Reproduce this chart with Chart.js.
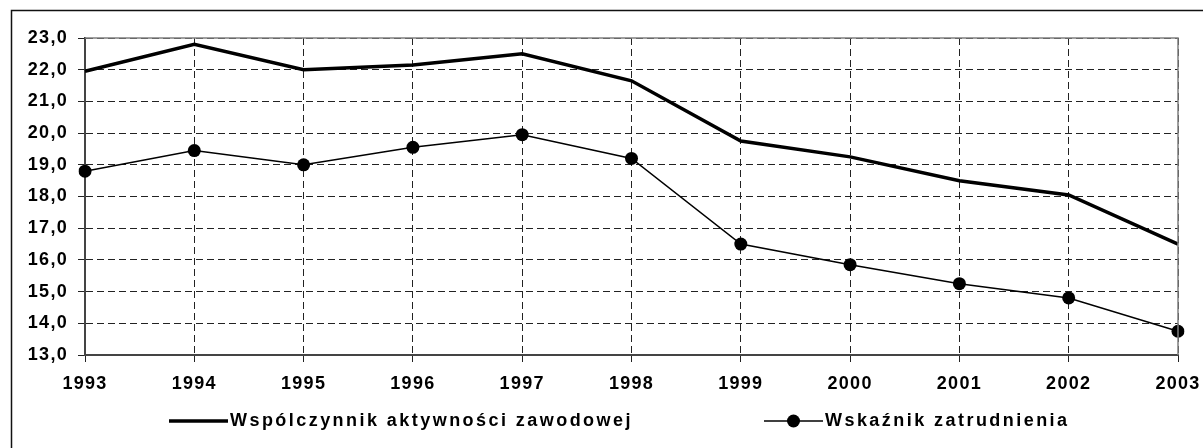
<!DOCTYPE html>
<html>
<head>
<meta charset="utf-8">
<script src="https://cdn.jsdelivr.net/npm/chart.js@4.4.0/dist/chart.umd.min.js"></script>
<style>
  html, body { margin: 0; padding: 0; background: #fff; }
  #wrap { width: 1203px; height: 448px; }
</style>
</head>
<body>
<div id="wrap"><canvas id="myChart" width="1203" height="448"></canvas></div>
<script>
var lata = ['1993', '1994', '1995', '1996', '1997', '1998', '1999', '2000', '2001', '2002', '2003'];
var aktywnosc = [21.95, 22.8, 22.0, 22.15, 22.5, 21.65, 19.75, 19.25, 18.5, 18.05, 16.5];
var zatrudnienie = [18.8, 19.45, 19.0, 19.55, 19.95, 19.2, 16.5, 15.85, 15.25, 14.8, 13.75];
var nazwy = ['Wspólczynnik aktywności zawodowej', 'Wskaźnik zatrudnienia'];
var yMin = 13, yMax = 23, yKrok = 1;

var czcionka = { family: "'Liberation Sans', Arial, sans-serif", size: 18, weight: 'bold' };

// ramka wokol calego wykresu, obwodka obszaru kreslenia i legenda
var rysunek = {
    id: 'rysunek',
    beforeDraw: function (chart) {
        var c = chart.ctx;
        c.letterSpacing = '1.3px';
    },
    afterDraw: function (chart) {
        var c = chart.ctx;
        var a = chart.chartArea;
        c.save();
        c.letterSpacing = '0px';
        c.strokeStyle = '#808080';
        c.lineWidth = 1.5;
        c.beginPath();
        c.moveTo(a.left, a.top);
        c.lineTo(a.right, a.top);
        c.lineTo(a.right, a.bottom);
        c.stroke();

        c.strokeStyle = '#111';
        c.lineWidth = 1.5;
        c.strokeRect(11.5, 10.5, 1250, 500);

        // legenda
        var ly = 421;
        c.strokeStyle = '#000';
        c.fillStyle = '#000';
        c.lineWidth = 3.5;
        c.beginPath();
        c.moveTo(169, ly);
        c.lineTo(228, ly);
        c.stroke();

        c.lineWidth = 1.5;
        c.beginPath();
        c.moveTo(764, ly);
        c.lineTo(823, ly);
        c.stroke();
        c.beginPath();
        c.arc(793.5, ly, 6.5, 0, Math.PI * 2);
        c.fill();

        c.font = 'bold 18px "Liberation Sans", Arial, sans-serif';
        c.letterSpacing = '2.45px';
        c.textBaseline = 'middle';
        c.textAlign = 'left';
        c.fillText(chart.data.datasets[0].label, 230, ly);
        c.fillText(chart.data.datasets[1].label, 825, ly);
        c.restore();
    }
};

var ctx = document.getElementById('myChart').getContext('2d');
var myChart = new Chart(ctx, {
    type: 'line',
    data: {
        labels: lata,
        datasets: [{
            label: nazwy[0],
            data: aktywnosc,
            borderColor: '#000',
            borderWidth: 3.5,
            pointRadius: 0,
            tension: 0,
            fill: false
        }, {
            label: nazwy[1],
            data: zatrudnienie,
            borderColor: '#000',
            backgroundColor: '#000',
            borderWidth: 1.5,
            pointRadius: 6.5,
            pointBackgroundColor: '#000',
            pointBorderWidth: 0,
            tension: 0,
            fill: false
        }]
    },
    options: {
        responsive: false,
        animation: false,
        layout: { padding: { top: 38, right: 25, left: 0, bottom: 0 } },
        plugins: {
            legend: { display: false },
            tooltip: { enabled: false }
        },
        scales: {
            x: {
                offset: false,
                afterFit: function (s) {
                    s.height = 93;
                    s.paddingLeft = 0;
                    s.paddingRight = 0;
                },
                grid: { color: '#222', lineWidth: 1, tickLength: 7, offset: false },
                border: { color: '#444', width: 2, dash: [7, 4] },
                ticks: { color: '#000', font: czcionka, padding: 11, maxRotation: 0, autoSkip: false }
            },
            y: {
                min: yMin,
                max: yMax,
                afterFit: function (s) { s.width = 85; },
                grid: { color: '#222', lineWidth: 1, tickLength: 7 },
                border: { color: '#444', width: 2, dash: [7, 4] },
                ticks: {
                    stepSize: yKrok,
                    color: '#000',
                    font: czcionka,
                    padding: 10,
                    callback: function (v) { return v.toFixed(1).replace('.', ','); }
                }
            }
        }
    },
    plugins: [rysunek]
});
</script>
</body>
</html>
